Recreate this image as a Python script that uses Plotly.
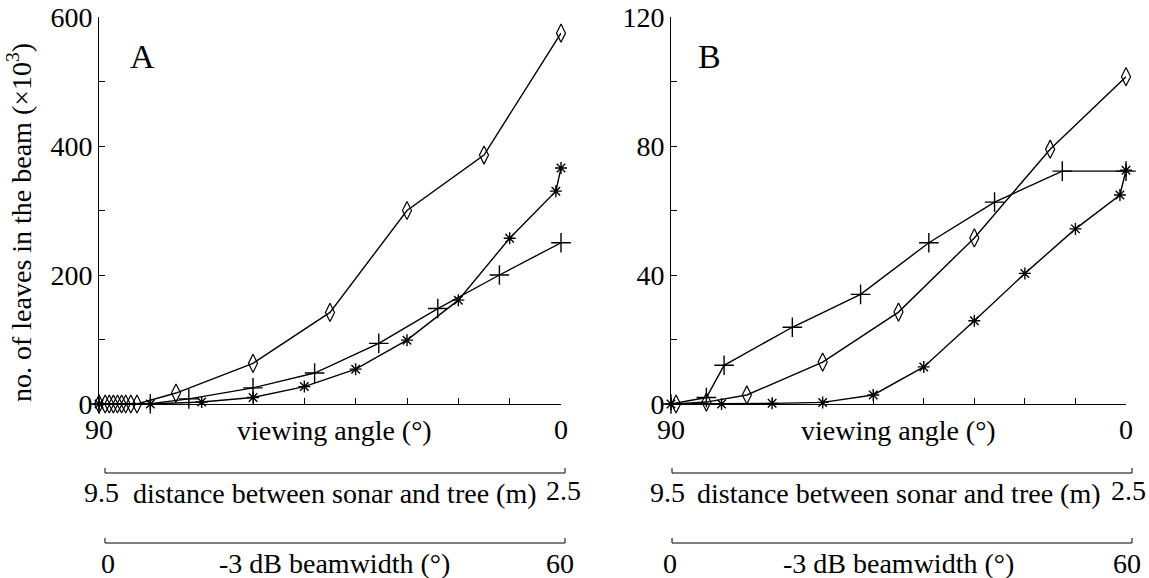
import plotly.graph_objects as go

# Panel A: viewing angle (deg) and number of leaves in the beam (x10^3)
a_diamond_angle = [90, 88.8, 88.0, 87.2, 86.4, 85.6, 84.8, 83.8, 82.6, 75, 60, 45, 30, 15, 0]
a_diamond_leaves = [0, 0, 0, 0, 0, 0, 0, 0, 0, 17, 63, 142, 300, 386, 575]
a_plus_angle = [90, 80, 72.5, 60, 48, 35.5, 24, 12, 0]
a_plus_leaves = [0, 0.5, 8, 25, 48, 94, 148, 200, 250]
a_star_angle = [90, 80, 70, 60, 50, 40, 30, 20, 10, 1, 0]
a_star_leaves = [0, 0, 3, 10, 27, 54, 99, 161, 257, 330, 366]

# Panel B
b_diamond_angle = [89, 83, 75, 60, 45, 30, 15, 0]
b_diamond_leaves = [0, 0.6, 2.8, 13, 28.5, 51.5, 79, 101.5]
b_plus_angle = [90, 83, 79.5, 66, 52.5, 39, 26, 12.6, 0]
b_plus_leaves = [0, 2, 12, 23.8, 34, 50, 62.6, 72.2, 72.2]
b_star_angle = [90, 80, 70, 60, 50, 40, 30, 20, 10, 1.2, 0]
b_star_leaves = [0, 0, 0.2, 0.5, 2.8, 11.5, 25.8, 40.5, 54.3, 64.8, 72.5]

# Axis ticks and labels
angle_ticks = [90, 80, 70, 60, 50, 40, 30, 20, 10, 0]
angle_ticktext = ["90", "", "", "", "", "", "", "", "", "0"]
a_yticks = [0, 200, 400, 600]
b_yticks = [0, 40, 80, 120]

W, H = 1149, 578
FONT = "'Times New Roman', 'Liberation Serif', Times, serif"
FS = 28


def px_x(p):
    return p / W


def px_y(p):
    return 1 - p / H


line_style = dict(color="black", width=1.4)
marker_styles = {
    "diamond": dict(symbol="diamond-tall-open", size=13, color="black", line=dict(color="black", width=1.2)),
    "plus": dict(symbol="cross-thin-open", size=14, color="black", line=dict(color="black", width=1.4)),
    "star": dict(symbol="asterisk-open", size=10, color="black", line=dict(color="black", width=1.4)),
}

fig = go.Figure()
series = [
    ("x", "y", a_diamond_angle, a_diamond_leaves, "diamond"),
    ("x", "y", a_plus_angle, a_plus_leaves, "plus"),
    ("x", "y", a_star_angle, a_star_leaves, "star"),
    ("x2", "y2", b_diamond_angle, b_diamond_leaves, "diamond"),
    ("x2", "y2", b_plus_angle, b_plus_leaves, "plus"),
    ("x2", "y2", b_star_angle, b_star_leaves, "star"),
]
for xa, ya, xs, ys, kind in series:
    fig.add_trace(go.Scatter(
        x=xs, y=ys, xaxis=xa, yaxis=ya, mode="lines+markers",
        line=line_style, marker=marker_styles[kind], cliponaxis=False,
        showlegend=False, hoverinfo="skip",
    ))

xdom_a = [px_x(99), px_x(561)]
xdom_b = [px_x(671), px_x(1126)]
ydom = [px_y(404), px_y(17)]

common_x = dict(
    range=[90, 0], tickvals=angle_ticks, ticktext=angle_ticktext,
    ticks="inside", ticklen=6, tickwidth=1, tickcolor="black",
    showline=True, linecolor="black", linewidth=1, showgrid=False, zeroline=False,
    tickfont=dict(family=FONT, size=FS, color="black"), automargin=False,
)
common_y = dict(
    ticks="inside", ticklen=6, tickwidth=1, tickcolor="black",
    showline=True, linecolor="black", linewidth=1, showgrid=False, zeroline=False,
    tickfont=dict(family=FONT, size=FS, color="black"), automargin=False,
)

fig.update_layout(
    width=W, height=H,
    margin=dict(l=0, r=0, t=0, b=0, pad=0, autoexpand=False),
    paper_bgcolor="white", plot_bgcolor="white",
    font=dict(family=FONT, size=FS, color="black"),
    xaxis=dict(domain=xdom_a, anchor="y", **common_x),
    xaxis2=dict(domain=xdom_b, anchor="y2", **common_x),
    yaxis=dict(domain=ydom, anchor="x", range=[0, 600], tickvals=a_yticks,
               minor=dict(tickvals=[100, 300, 500], ticks="inside", ticklen=6, tickcolor="black"),
               **common_y),
    yaxis2=dict(domain=ydom, anchor="x2", range=[0, 120], tickvals=b_yticks,
                minor=dict(tickvals=[20, 60, 100], ticks="inside", ticklen=6, tickcolor="black"),
                **common_y),
)

# Secondary scales drawn as brackets beneath each panel
shapes = []
for left, right in [(105, 565), (672, 1132)]:
    for yb in (473, 543):
        shapes.append(dict(type="line", xref="paper", yref="paper",
                           x0=px_x(left), x1=px_x(right), y0=px_y(yb), y1=px_y(yb),
                           line=dict(color="black", width=1)))
        for xe in (left, right):
            shapes.append(dict(type="line", xref="paper", yref="paper",
                               x0=px_x(xe), x1=px_x(xe), y0=px_y(yb), y1=px_y(yb - 5),
                               line=dict(color="black", width=1)))
fig.update_layout(shapes=shapes)


def note(text, x, y, size=FS, xanchor="center", **kw):
    fig.add_annotation(text=text, x=px_x(x), y=px_y(y), xref="paper", yref="paper",
                       showarrow=False, xanchor=xanchor, yanchor="middle",
                       font=dict(family=FONT, size=size, color="black"), **kw)


for cx, lo_d, hi_d, lo_b, hi_b in [
    (334, 101, 563, 108, 560),
    (899, 667, 1128, 670, 1127),
]:
    note("viewing angle (°)", cx, 430)
    note("distance between sonar and tree (m)", cx, 493)
    note("9.5", lo_d, 492)
    note("2.5", hi_d, 490)
    note("-3 dB beamwidth (°)", cx, 563)
    note("0", lo_b, 563)
    note("60", hi_b, 563)

note("A", 142, 57, size=34)
note("B", 709, 57, size=34)
note("no. of leaves in the beam (×10<sup>3</sup>)", 19, 223, textangle=-90)

fig.write_html("out.html")
